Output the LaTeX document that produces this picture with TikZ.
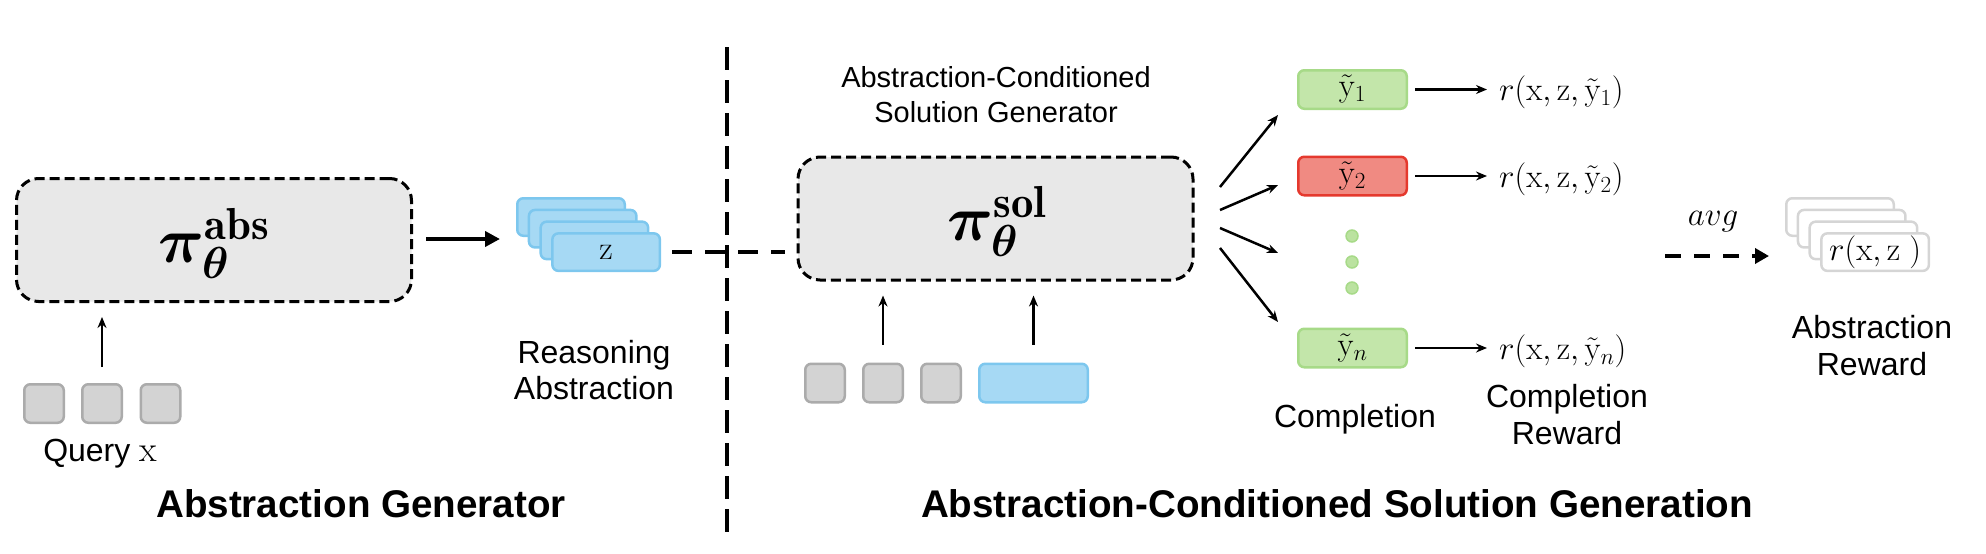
\RequirePackage{fix-cm}
\documentclass[tikz,border=0pt]{standalone}
\usepackage{amsmath,bm}
\usepackage{fontspec}
\setsansfont{Liberation Sans}
\usetikzlibrary{arrows.meta}
\definecolor{boxgray}{HTML}{E8E8E8}
\definecolor{tokfill}{HTML}{D3D3D3}
\definecolor{tokline}{HTML}{ABABAB}
\definecolor{bluefill}{HTML}{A6D9F4}
\definecolor{blueline}{HTML}{7DC7EE}
\definecolor{greenfill}{HTML}{C3E6AA}
\definecolor{greenline}{HTML}{A7DA88}
\definecolor{redfill}{HTML}{F08A82}
\definecolor{redline}{HTML}{E5392E}
\definecolor{whiteline}{HTML}{D5D5D5}
\begin{document}
\begin{tikzpicture}[x=1pt,y=-1pt,
  mathfont/.style={font=\fontsize{33}{38}\selectfont},
  policy/.style={draw, line width=3pt, dash pattern=on 10pt off 5pt, rounded corners=22pt, fill=boxgray, minimum width=395pt, minimum height=123pt, inner sep=0pt},
  token/.style={draw=tokline, fill=tokfill, line width=2.5pt, rounded corners=6pt, minimum width=39.5pt, minimum height=38.5pt, inner sep=0pt},
  bluebox/.style={draw=blueline, fill=bluefill, line width=2.5pt, rounded corners=6pt, minimum width=107.5pt, minimum height=37.5pt, inner sep=0pt},
  whitebox/.style={draw=whiteline, fill=white, line width=2.5pt, rounded corners=6pt, minimum width=107.5pt, minimum height=37.5pt, inner sep=0pt, mathfont},
  goodbox/.style={draw=greenline, fill=greenfill, line width=2.5pt, rounded corners=6pt, minimum width=108.5pt, minimum height=38.5pt, inner sep=0pt, mathfont},
  badbox/.style={draw=redline, fill=redfill, line width=2.5pt, rounded corners=6pt, minimum width=108.5pt, minimum height=38.5pt, inner sep=0pt, mathfont},
  gdot/.style={circle, draw=greenline, fill=greenfill!70!greenline, line width=1.5pt, minimum size=12pt, inner sep=0pt},
  lab/.style={font=\sffamily\fontsize{32}{37}\selectfont, anchor=base, inner sep=0pt},
  smalllab/.style={font=\sffamily\fontsize{29}{35}\selectfont, anchor=base, inner sep=0pt},
  title/.style={font=\sffamily\bfseries\fontsize{38.6}{44}\selectfont, anchor=base, inner sep=0pt},
  mathlab/.style={mathfont, inner sep=0pt},
  biglab/.style={font=\fontsize{64}{70}\selectfont, inner sep=0pt},
  arr/.style={line width=2.5pt, -{Stealth[length=11pt,width=9pt]}},
  thickarr/.style={line width=4.5pt, -{Triangle[length=15pt,width=15pt]}},
  dashline/.style={line width=4pt, dash pattern=on 20pt off 13pt},
  sepline/.style={line width=4pt, dash pattern=on 23pt off 10pt},
  avgarr/.style={line width=4.5pt, dash pattern=on 16pt off 13pt, -{Triangle[length=14pt,width=15pt]}}
]
\useasboundingbox (0,0) rectangle (1986,554);

% divider
\coordinate (septop) at (727,47);
\coordinate (sepbot) at (727,532);
\draw[sepline] (septop) -- (sepbot);

% ---------- left part ----------
\node[policy] (abs) at (214,240) {};
\node[biglab] (abslab) at (214,243) {$\bm{\pi}^{\mathbf{abs}}_{\bm{\theta}}$};

\node[token] (q1) at (44,403.5) {};
\node[token] (q2) at (102,403.5) {};
\node[token] (q3) at (160.5,403.5) {};
\node[lab] (qlab) at (100,461) {Query {\fontsize{36}{40}\selectfont$\mathrm{x}$}};
\draw[arr, shorten <=16pt, shorten >=14pt] (q2.north) -- (q2.north |- abs.south);

\node[bluebox] (z1) at (571,217) {};
\node[bluebox] (z2) at (582.7,228.7) {};
\node[bluebox] (z3) at (594.4,240.4) {};
\node[bluebox, mathfont] (z4) at (606.1,252.1) {$\mathrm{z}$};
\draw[thickarr, shorten <=13pt, shorten >=16pt] ([yshift=1pt]abs.east) -- ([yshift=1pt]abs.east -| z1.west);

\node[lab] (ra1) at (594,363) {Reasoning};
\node[lab] (ra2) at (594,399) {Abstraction};

\node[title] (t1) at (361,517) {Abstraction Generator};

% ---------- right part ----------
\node[policy] (sol) at (995.5,218.5) {};
\node[biglab] (sollab) at (997,221) {$\bm{\pi}^{\mathbf{sol}}_{\bm{\theta}}$};
\node[smalllab] (sg1) at (996,87) {Abstraction-Conditioned};
\node[smalllab] (sg2) at (996,122) {Solution Generator};

\draw[dashline, shorten <=11pt, shorten >=12pt] (z4.east) -- (z4.east -| sol.west);

\node[token] (s1) at (825,383) {};
\node[token] (s2) at (883,383) {};
\node[token] (s3) at (941,383) {};
\node[bluebox, minimum width=108.5pt, minimum height=38.5pt] (s4) at (1033.5,383) {};
\draw[arr, shorten <=18pt, shorten >=14pt] (s2.north) -- (s2.north |- sol.south);
\draw[arr, shorten <=18pt, shorten >=14pt] (s4.north) -- (s4.north |- sol.south);

% completions
\node[goodbox] (y1) at (1352.5,89.5) {$\tilde{\mathrm{y}}_1$};
\node[badbox] (y2) at (1352.5,176) {$\tilde{\mathrm{y}}_2$};
\node[gdot] (d1) at (1352,236) {};
\node[gdot] (d2) at (1352,262) {};
\node[gdot] (d3) at (1352,288) {};
\node[goodbox] (yn) at (1352.5,348) {$\tilde{\mathrm{y}}_n$};

\coordinate (f1s) at (1220,187); \coordinate (f1e) at (1278,115);
\coordinate (f2s) at (1220,210); \coordinate (f2e) at (1278,185);
\coordinate (f3s) at (1220,228); \coordinate (f3e) at (1278,253);
\coordinate (f4s) at (1220,248); \coordinate (f4e) at (1278,322);
\draw[arr] (f1s) -- (f1e);
\draw[arr] (f2s) -- (f2e);
\draw[arr] (f3s) -- (f3e);
\draw[arr] (f4s) -- (f4e);

\node[mathlab, anchor=west] (r1) at (1499,92) {$r(\mathrm{x},\mathrm{z},\tilde{\mathrm{y}}_1)$};
\node[mathlab, anchor=west] (r2) at (1499,179) {$r(\mathrm{x},\mathrm{z},\tilde{\mathrm{y}}_2)$};
\node[mathlab, anchor=west] (rn) at (1499,351) {$r(\mathrm{x},\mathrm{z},\tilde{\mathrm{y}}_n)$};
\draw[arr, shorten <=7pt, shorten >=12pt] (y1.east) -- (y1.east -| r1.west);
\draw[arr, shorten <=7pt, shorten >=12pt] (y2.east) -- (y2.east -| r2.west);
\draw[arr, shorten <=7pt, shorten >=12pt] (yn.east) -- (yn.east -| rn.west);

\node[lab] (cl) at (1355,427) {Completion};
\node[lab] (cr1) at (1567,407) {Completion};
\node[lab] (cr2) at (1567,444) {Reward};

% abstraction reward
\node[whitebox] (w1) at (1840,217) {};
\node[whitebox] (w2) at (1851.7,228.7) {};
\node[whitebox] (w3) at (1863.4,240.4) {};
\node[whitebox] (w4) at (1875.1,252.1) {$r(\mathrm{x},\mathrm{z}\;)$};

\coordinate (avgs) at (1665,256);
\draw[avgarr, shorten >=16pt] (avgs) -- (avgs -| w1.west);
\node[mathlab] (avglab) at (1713,222) {$avg$};

\node[lab] (ar1) at (1872,338) {Abstraction};
\node[lab] (ar2) at (1872,375) {Reward};

\node[title] (t2) at (1337,517) {Abstraction-Conditioned Solution Generation};
\end{tikzpicture}
\end{document}
